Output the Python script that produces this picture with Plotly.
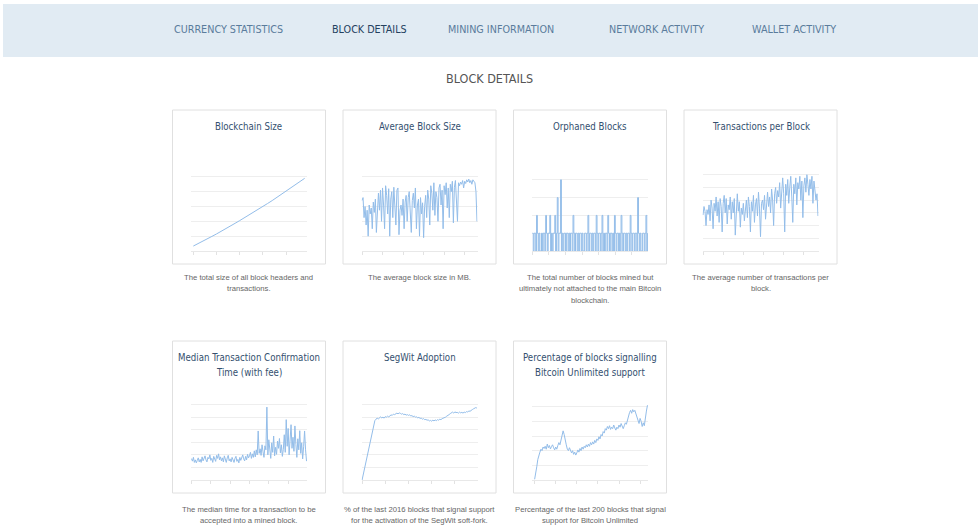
import plotly.graph_objects as go

W, H = 978, 529

# ---------------- data ----------------
nav_items = ["CURRENCY STATISTICS", "BLOCK DETAILS", "MINING INFORMATION", "NETWORK ACTIVITY", "WALLET ACTIVITY"]
page_title = "BLOCK DETAILS"

chart_titles = [
    ["Blockchain Size"], ["Average Block Size"], ["Orphaned Blocks"], ["Transactions per Block"],
    ["Median Transaction Confirmation", "Time (with fee)"], ["SegWit Adoption"],
    ["Percentage of blocks signalling", "Bitcoin Unlimited support"],
]
chart_captions = [
    ["The total size of all block headers and", "transactions."],
    ["The average block size in MB."],
    ["The total number of blocks mined but", "ultimately not attached to the main Bitcoin", "blockchain."],
    ["The average number of transactions per", "block."],
    ["The median time for a transaction to be", "accepted into a mined block."],
    ["% of the last 2016 blocks that signal support", "for the activation of the SegWit soft-fork."],
    ["Percentage of the last 200 blocks that signal", "support for Bitcoin Unlimited"],
]

blockchain_size = [10, 14.5, 19.5, 24.5, 29.5, 34.5, 39.5, 45, 50.5, 56, 61.5, 67, 72.5, 78,
                   84, 90, 96, 102, 108.5, 115, 121.5, 128, 134.5, 141, 147]

avg_block_size = [0.68, 0.72, 0.45, 0.60, 0.35, 0.55, 0.20, 0.62, 0.50, 0.58, 0.30, 0.66, 0.52, 0.70, 0.25, 0.60,
                  0.78, 0.55, 0.82, 0.40, 0.85, 0.62, 0.30, 0.88, 0.75, 0.50, 0.84, 0.20, 0.70, 0.80, 0.45,
                  0.86, 0.60, 0.35, 0.82, 0.85, 0.22, 0.55, 0.62, 0.48, 0.70, 0.30, 0.66, 0.75, 0.40, 0.72,
                  0.80, 0.52, 0.25, 0.68, 0.78, 0.58, 0.85, 0.30, 0.62, 0.70, 0.20, 0.72, 0.50, 0.65, 0.18,
                  0.60, 0.75, 0.45, 0.82, 0.70, 0.35, 0.88, 0.78, 0.55, 0.92, 0.48, 0.80, 0.72, 0.40, 0.85,
                  0.90, 0.62, 0.82, 0.30, 0.88, 0.76, 0.92, 0.58, 0.85, 0.45, 0.90, 0.80, 0.94, 0.38, 0.86,
                  0.95, 0.70, 0.40, 0.92, 0.88, 0.93, 0.90, 0.95, 0.85, 0.94, 0.91, 0.96, 0.93, 0.97, 0.92,
                  0.95, 0.90, 0.96, 0.94, 0.92, 0.80, 0.40]

orphaned_blocks = [1, 0, 1, 1, 0, 2, 1, 0, 1, 0,
                   0, 1, 0, 1, 1, 0, 2, 1, 0, 1,
                   1, 2, 0, 1, 0, 1, 1, 2, 0, 1,
                   3, 0, 1, 1, 4, 0, 1, 0, 1, 1,
                   0, 1, 1, 0, 1, 0, 1, 1, 0, 2,
                   1, 0, 1, 1, 0, 1, 0, 1, 1, 0,
                   1, 0, 0, 1, 1, 0, 1, 2, 0, 1,
                   1, 0, 1, 0, 1, 1, 0, 2, 1, 0,
                   1, 1, 0, 1, 2, 0, 1, 0, 1, 1,
                   0, 2, 1, 0, 1, 1, 0, 1, 0, 2,
                   1, 0, 1, 1, 0, 1, 0, 2, 1, 0,
                   1, 1, 0, 1, 0, 1, 1, 0, 2, 1,
                   0, 1, 1, 0, 1, 1, 0, 3, 1, 0,
                   1, 0, 0, 1, 1, 0, 1, 2, 0, 1]

tx_per_block = [1130, 1400, 1250, 800, 1300, 1150, 1450, 950, 1600, 1350, 700, 1500, 1250, 1700, 1100,
                1550, 900, 1650, 1400, 600, 1500, 1750, 1200, 1650, 850, 1450, 1300, 1700, 1000, 1550,
                1200, 1650, 500, 1400, 1800, 1250, 1550, 750, 1350, 1150, 1500, 950, 1300, 1600, 1050,
                1700, 1400, 600, 1550, 1250, 1750, 900, 1450, 1650, 1100, 1850, 1350, 450, 1500, 1600,
                1300, 1750, 1000, 1550, 1850, 1400, 1700, 1200, 1950, 1600, 800, 1800, 2000, 1500, 1900,
                1700, 2150, 1350, 1950, 2300, 1800, 600, 2100, 1750, 2250, 1500, 2000, 2350, 1700, 900,
                2100, 1800, 2300, 1450, 2150, 1950, 2350, 1600, 2200, 1050, 2050, 2300, 1850, 2400, 2100,
                1750, 2250, 1950, 2350, 1500, 2200, 1900, 1600, 1800, 1100]

median_confirm = [8.5, 7.5, 9.0, 7.0, 8.0, 6.8, 7.8, 8.8, 7.2, 8.2, 7.0, 9.2, 7.6, 8.4, 9.6,
                  8.0, 7.2, 9.0, 8.4, 10.0, 7.8, 8.6, 7.0, 9.4, 8.2, 7.4, 9.8, 8.6, 10.4, 8.0,
                  9.2, 7.6, 8.8, 7.2, 9.6, 8.0, 7.0, 8.8, 9.8, 7.6, 8.4, 7.2, 9.0, 8.0, 7.0,
                  8.6, 9.4, 7.4, 8.2, 6.8, 9.0, 7.8, 8.8, 10.0, 8.4, 7.6, 9.4, 8.0, 10.2, 8.8,
                  9.6, 11.0, 8.6, 10.4, 9.0, 11.6, 9.2, 12.0, 10.0, 19.5, 10.6, 12.4, 9.8, 14.0, 11.2,
                  9.0, 13.6, 12.0, 29.0, 10.0, 16.0, 12.0, 8.6, 14.8, 11.0, 17.5, 9.6, 13.0, 10.2, 15.5,
                  12.6, 16.5, 10.8, 14.0, 9.4, 12.2, 18.0, 11.0, 24.0, 13.4, 20.5, 10.0, 15.8, 22.0, 12.6,
                  17.0, 11.4, 21.5, 14.2, 9.0, 16.4, 12.0, 19.6, 10.6, 14.8, 8.4, 13.2, 19.5, 12.0, 7.5]

segwit = [0.0, 2.2, 4.6, 7.0, 9.2, 11.5, 13.4, 15.6, 17.8, 20.0,
          22.6, 23.6, 24.2, 24.6, 24.3, 24.8, 25.1, 24.7, 25.0, 24.6,
          25.2, 25.0, 25.4, 25.1, 25.6, 25.9, 25.7, 26.2, 26.0, 26.4,
          26.6, 26.3, 26.7, 26.5, 26.2, 26.4, 26.0, 26.2, 25.8, 26.0,
          25.7, 25.9, 25.5, 25.6, 25.2, 25.4, 25.0, 25.1, 24.7, 24.9,
          24.5, 24.6, 24.2, 24.4, 24.0, 24.1, 23.8, 23.9, 23.5, 23.7,
          23.4, 23.8, 23.5, 23.9, 23.6, 24.0, 23.8, 24.2, 24.0, 24.4,
          24.5, 24.8, 25.0, 25.4, 25.6, 26.0, 26.4, 26.7, 27.0, 26.6,
          27.1, 26.8, 26.9, 26.6, 27.0, 26.7, 26.9, 26.6, 27.0, 26.8,
          27.2, 27.0, 27.5, 27.3, 27.8, 28.0, 28.3, 28.5, 28.8, 28.6]

bu_support = [0.5, 4, 9, 14, 17.5, 19, 21, 20, 22.5, 21.5,
              23, 21, 24.5, 22, 23.5, 21.2, 22.8, 24, 22, 20.5,
              22.5, 21, 23.5, 25.5, 24, 27, 30, 33.5, 31, 26,
              24, 21, 20, 22, 19.5, 18.5, 20, 17.5, 19, 17,
              18.5, 20.5, 19, 21.5, 20, 22.5, 21, 23, 22, 24,
              22.5, 24.5, 23, 25.5, 24, 26, 24.5, 27, 25.5, 28,
              27, 29.5, 28, 31, 30, 33, 32, 35, 34, 36.5,
              35, 37, 34.5, 36, 35, 37.5, 35.5, 34, 36, 35,
              37.5, 36, 38.5, 36.5, 35, 37, 39, 38, 41, 43,
              46, 47.5, 45.5, 48, 46.5, 47.5, 45, 44, 41, 38.5,
              42, 40, 36.5, 39, 37, 43.5, 47, 51]

series = [blockchain_size, avg_block_size, orphaned_blocks, tx_per_block,
          median_confirm, segwit, bu_support]
y_ranges = [(0, 180, 30), (0, 1.2, 0.2), (0, 5, 1), (0, 2800, 400),
            (0, 35, 5), (0, 35, 5), (0, 60, 10)]

# ---------------- layout helpers ----------------
def xp(px):
    return px / W

def yp(py):
    return 1 - py / H

card_left = [172.5, 343, 513.5, 684]
card_w = 153
row_top = [110, 341]
row_h = [154, 152]
plot_y = [(251, 162), (480, 392)]   # (baseline, top gridline) in px
title_y = [126, 357]
cap_y = [277, 509]

COND = "DejaVu Sans Condensed, Liberation Sans Narrow, sans-serif"
SANS = "Liberation Sans, Arial, sans-serif"
LINE = "#93bde9"

fig = go.Figure()
shapes = []
annotations = []
layout_axes = {}

# nav bar
shapes.append(dict(type="rect", xref="paper", yref="paper", x0=xp(3), x1=xp(978), y0=yp(57), y1=yp(4),
                   fillcolor="#e1ebf3", line=dict(width=0), layer="below"))
nav_x = [228, 369, 501, 656, 794]
for i, (t, x) in enumerate(zip(nav_items, nav_x)):
    annotations.append(dict(text=t, x=xp(x), y=yp(30), xref="paper", yref="paper", showarrow=False,
                            xanchor="center", yanchor="middle",
                            font=dict(family=COND, size=10.7,
                                      color="#24415f" if i == 1 else "#5a7c9c")))
annotations.append(dict(text=page_title, x=xp(489), y=yp(79), xref="paper", yref="paper", showarrow=False,
                        xanchor="center", yanchor="middle",
                        font=dict(family=COND, size=12.5, color="#555555")))

for k in range(7):
    row, col = divmod(k, 4)
    left = card_left[col]
    shapes.append(dict(type="rect", xref="paper", yref="paper",
                       x0=xp(left), x1=xp(left + card_w), y0=yp(row_top[row] + row_h[row]), y1=yp(row_top[row]),
                       fillcolor="white", line=dict(color="#e0e0e0", width=1), layer="below"))
    n = "" if k == 0 else str(k + 1)
    base, top = plot_y[row]
    y0, y1, dt = y_ranges[k]
    vals = series[k]
    xr = [-0.5, len(vals) - 0.5] if k != 6 else [-2.5, len(vals) - 0.5]
    layout_axes["xaxis" + n] = dict(domain=[xp(left + 18.5), xp(left + card_w - 18.5)], anchor="y" + n,
                                   range=xr, showgrid=False, zeroline=False, showticklabels=False,
                                   showline=True, linecolor="#e8e8e8", linewidth=1,
                                   ticks="outside", ticklen=3, tickcolor="#e2e2e2",
                                   nticks=8, fixedrange=True)
    layout_axes["yaxis" + n] = dict(domain=[yp(base), yp(top)], anchor="x" + n,
                                   range=[y0, y1], dtick=dt, tick0=0, showgrid=True, gridcolor="#eeeeee",
                                   gridwidth=1, zeroline=False, showticklabels=False, showline=False,
                                   fixedrange=True)
    fig.add_trace(go.Scatter(x=list(range(len(vals))), y=vals, mode="lines",
                             line=dict(color=LINE, width=1, shape="hv" if k == 2 else "linear"),
                             xaxis="x" + n, yaxis="y" + n,
                             hoverinfo="skip", showlegend=False))
    cx = left + card_w / 2
    for j, line_txt in enumerate(chart_titles[k]):
        annotations.append(dict(text=line_txt, x=xp(cx), y=yp(title_y[row] + 15 * j), xref="paper",
                                yref="paper", showarrow=False, xanchor="center", yanchor="middle",
                                font=dict(family=COND, size=9.6, color="#34506f")))
    for j, line_txt in enumerate(chart_captions[k]):
        annotations.append(dict(text=line_txt, x=xp(cx), y=yp(cap_y[row] + 11.5 * j), xref="paper",
                                yref="paper", showarrow=False, xanchor="center", yanchor="middle",
                                font=dict(family=SANS, size=7.7, color="#666666")))

fig.update_layout(width=W, height=H, margin=dict(l=0, r=0, t=0, b=0),
                  paper_bgcolor="white", plot_bgcolor="rgba(0,0,0,0)",
                  shapes=shapes, annotations=annotations, showlegend=False, **layout_axes)

fig.write_html("out.html", config={"displayModeBar": False},
               post_script="document.body.style.margin='0';document.body.style.overflow='hidden';")
